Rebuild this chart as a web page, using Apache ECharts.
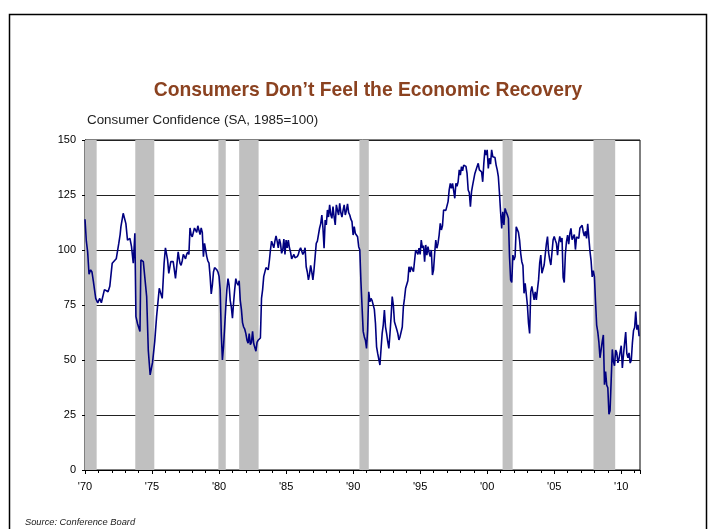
<!DOCTYPE html>
<html>
<head>
<meta charset="utf-8">
<script src="https://cdn.jsdelivr.net/npm/echarts@6/dist/echarts.min.js"></script>
<style>
html,body{margin:0;padding:0;background:#fff;}
#chart{width:712px;height:529px;}
</style>
</head>
<body>
<div id="chart"></div>
<script>
// ---- Data ----
const titleText = 'Consumers Don\u2019t Feel the Economic Recovery';
const subtitleText = 'Consumer Confidence (SA, 1985=100)';
const sourceText = 'Source: Conference Board';

// Early period (irregular / bi-monthly survey), decimal year and value
const earlyYears = [1970.00,1970.10,1970.20,1970.30,1970.42,1970.52,1970.62,1970.80,1970.95,1971.10,1971.22,1971.45,1971.72,1971.85,
  1972.03,1972.33,1972.52,1972.62,1972.68,1972.85,1973.05,1973.17,1973.35,1973.47,1973.60,1973.72,1973.80,1973.92,1974.10,1974.17,
  1974.35,1974.60,1974.72,1974.86,1975.04,1975.20,1975.34,1975.54,1975.76,1975.90,1976.00,1976.16,1976.25,1976.40,1976.58,1976.75,1976.95];
const earlyValues = [114,104,99,89,91,90,86,78,76,78,76,82,81,83.5,
  94,96,103,107,110.6,116.7,112,104.5,105.3,101.5,94,107.6,69.7,66.5,63,95.5,
  94.7,78.8,54.5,43.2,49,58.3,69.7,82.6,78,94,101,95.5,89.4,94.7,94.7,87.1,99.2];

// Monthly values from January 1977
const monthlyStartYear = 1977;
const monthlyValues = [
  97,94,93,95,98,97,96,98,99,98,110,107,
  106,108,110,109,108,111,109,107,110,108,97,103,
  100,97,95,94,88,80,84,90,92,92,91,90,
  88,82,62,50,56,65,74,82,87,84,77,74,
  69,76,82,87,85,84,86,77,73,67,65,64,
  62,59,57.6,62,57,58,63,57.5,57,54,58,59,
  59.5,60,78,82,88,88,92,92,91,95,100,104,
  103.8,101,104,106.4,104,101,105,103,98.5,100,105,98,
  104.5,101,104.5,101,99,96,97,98,96.5,96,97,98,
  100,101,100.8,98,99,101,92.4,90,86.4,89,93,90,
  86.4,91,97,103,104,103.8,110,112,115.9,110,100.8,113.6,
  111.4,118.2,115,120.5,116,114.4,119.7,115,111.4,120.5,118,115.9,
  121.2,117,115,118,120.5,115.9,118,121,117,115.9,114,112.9,
  106.8,110.6,107.5,106.8,106,101.5,100,85.6,85.6,63,60.6,59,
  55.3,63.6,81,76.5,78,77,76.5,73,66.7,56,53,52.3,
  47.7,55,62.1,66,72.7,65.1,62,58.3,55.3,62,69.7,78.8,
  75,67.4,67,64,62.1,59.1,60.6,60.6,65,74.2,78,82.6,
  83.3,86,92.4,90,92.4,92.4,90.1,90.1,100,100.8,98,100.8,
  98,104.5,101,102,94.7,102.3,97.7,101.5,99,97,100,88.6,
  91,98.5,104.5,100.8,103,106.8,112.1,109.1,111,118.2,118.9,118,
  118.9,122,127.3,130.3,128,130.3,127,123.5,130.3,129,131,136.4,
  134,137.9,136,138.6,138,138,134.8,127.3,126,119.7,126.5,129.5,
  130,134.8,135,137.9,139.4,136.4,136,135.5,131,139.4,145.5,143.2,
  145.5,137.1,141.7,139,145.5,142.4,143,142,138.6,136.4,133.3,125.8,
  117.4,109.8,117.4,111.4,118.9,117.4,116,114.4,97,86.4,85.2,97.7,
  95.5,97,110.6,110.6,108,104.5,98.5,94.7,93,80.3,84.8,80,
  75,66.7,62.1,81,83.5,82.6,77.3,81,77.3,82,86.4,94,
  97.7,89.4,88.5,93.2,93.1,102.8,106.1,98.7,95.5,93.2,92.6,104.5,
  106.1,104.4,103,97.7,103.1,106.2,103.6,105.5,87.5,85.2,98.3,103.8,
  106.8,102.7,107.5,109.8,104.7,105.4,107,100.2,105.9,105.1,105.3,110,
  110.2,111.2,108.2,106.3,108.5,105.3,111.9,105.6,99.5,95.2,87.8,90.6,
  87.9,76.4,65.9,62.8,58.1,51,51.9,58.5,61.4,38.8,44.7,38.6,
  37.4,25.3,26.9,40.8,54.8,49.3,47.4,54.5,53.4,48.7,50.6,53.6,
  56.5,46.4,52.3,57.7,62.7,52.9,51,53.2,48.6,49.9,57.8,63.4,
  64.8,72,63.8,66,60.8
];

// Recessions (shaded), decimal years
const recessionStarts = [1970.00, 1973.75, 1979.95, 1981.50, 1990.47, 2001.15, 2007.93];
const recessionEnds   = [1970.87, 1975.17, 1980.50, 1982.95, 1991.17, 2001.90, 2009.55];

// Axis settings
const xMin = 1970, xMax = 2011.4, xStep = 5;
const yMin = 0, yMax = 150, yStep = 25;

// ---- Build ----
const seriesData = [];
earlyYears.forEach((t, i) => seriesData.push([t, earlyValues[i]]));
monthlyValues.forEach((v, i) => seriesData.push([monthlyStartYear + i / 12, v]));

const recessionAreas = recessionStarts.map((s, i) => [{ xAxis: s }, { xAxis: recessionEnds[i] }]);

const chart = echarts.init(document.getElementById('chart'), null, { renderer: 'canvas' });
const font = 'Liberation Sans, Arial, Helvetica, sans-serif';

chart.setOption({
  animation: false,
  backgroundColor: '#fff',
  textStyle: { fontFamily: font },
  grid: { left: 85, right: 72, top: 140, bottom: 59, show: true, borderColor: '#000', borderWidth: 1, backgroundColor: 'transparent' },
  xAxis: {
    type: 'value', min: xMin, max: xMax, interval: xStep,
    axisLine: { show: true, onZero: false, lineStyle: { color: '#000', width: 1 } },
    axisTick: { show: true, inside: false, length: 4, lineStyle: { color: '#000' } },
    minorTick: { show: true, splitNumber: 5, length: 3, lineStyle: { color: '#000' } },
    splitLine: { show: false },
    axisLabel: {
      color: '#000', fontSize: 11, fontFamily: font, margin: 11, showMaxLabel: false,
      formatter: v => (Math.abs(v % 5) < 1e-6 ? '\'' + String(Math.round(v)).slice(2) : '')
    }
  },
  yAxis: {
    type: 'value', min: yMin, max: yMax, interval: yStep,
    axisLine: { show: true, lineStyle: { color: '#000', width: 1 } },
    axisTick: { show: true, inside: false, length: 3, lineStyle: { color: '#000' } },
    splitLine: { show: true, lineStyle: { color: '#222', width: 1 } },
    axisLabel: { color: '#000', fontSize: 11, fontFamily: font, margin: 9 }
  },
  series: [{
    type: 'line',
    data: seriesData,
    showSymbol: false,
    symbol: 'none',
    lineStyle: { color: '#000080', width: 1.6 },
    z: 3,
    markArea: {
      silent: true,
      itemStyle: { color: '#C0C0C0', opacity: 1 },
      data: recessionAreas
    }
  }],
  graphic: [
    { type: 'rect', shape: { x: 9.5, y: 14.5, width: 697, height: 530 }, style: { fill: 'none', stroke: '#000', lineWidth: 1.5 }, silent: true },
    { type: 'text', x: 368, y: 91, style: { text: titleText, fill: '#8B4220', font: 'bold 19.3px ' + font, textAlign: 'center', textVerticalAlign: 'middle' } },
    { type: 'text', x: 87, y: 120, style: { text: subtitleText, fill: '#222', font: '13.4px ' + font, textAlign: 'left', textVerticalAlign: 'middle' } },
    { type: 'text', x: 25, y: 522, style: { text: sourceText, fill: '#222', font: 'italic 9.3px ' + font, textAlign: 'left', textVerticalAlign: 'middle' } }
  ]
});
</script>
</body>
</html>
